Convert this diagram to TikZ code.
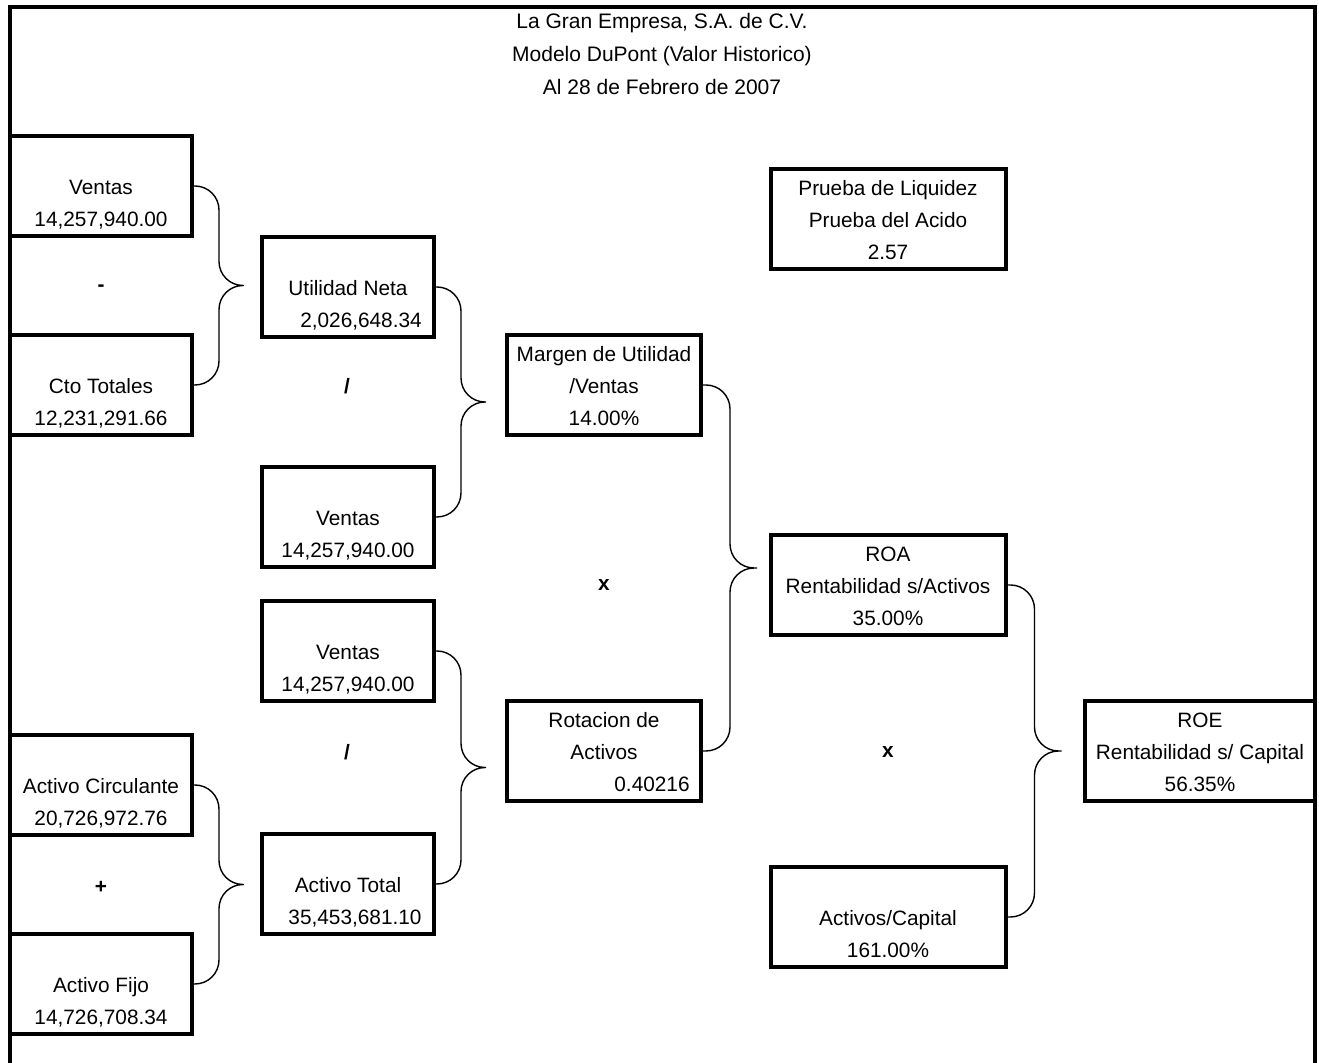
\documentclass[tikz,border=0pt]{standalone}
\usepackage{fontspec}
\setmainfont{Liberation Sans}
\usepackage{tikz}
\usetikzlibrary{calc}
\newcommand{\arriba}{\rule{0pt}{13.2pt}}

\begin{document}
\begin{tikzpicture}[x=0.5pt,y=-0.5pt,thick,
  texto/.style={align=center,font=\fontsize{10.4}{16}\selectfont},
  caja/.style={texto,rectangle,draw,line width=2pt,minimum height=49pt,inner sep=0pt},
  col a/.style={caja,minimum width=91pt},
  col b/.style={caja,minimum width=86pt},
  col c/.style={caja,minimum width=97pt},
  col d/.style={caja,minimum width=117.5pt},
  col e/.style={caja,minimum width=115pt},
  op/.style={font=\fontsize{10.4}{16}\selectfont\bfseries},
  titulo/.style={texto,font=\fontsize{10.5}{16.5}\selectfont},
  llave/.style={line width=0.7pt,rounded corners=12pt}]

  \useasboundingbox (0,0) rectangle (1319,1063);
  \draw[line width=2pt] (10,1063) -- (10,7) -- (1315,7) -- (1315,1063);

  \node[titulo] (tit) at (662,55) {\strut La Gran Empresa, S.A. de C.V.\\Modelo DuPont (Valor Historico)\\\strut Al 28 de Febrero de 2007};

  \node[col a] (ven1) at (101,186) {\arriba\\Ventas\\\strut 14,257,940.00};
  \node[col a] (cto) at (101,385) {\arriba\\Cto Totales\\\strut 12,231,291.66};
  \node[col a] (aci) at (101,785) {\arriba\\Activo Circulante\\\strut 20,726,972.76};
  \node[col a] (afi) at (101,984) {\arriba\\Activo Fijo\\\strut 14,726,708.34};

  \node[col b] (uti) at (348,287) {\arriba\\Utilidad Neta\\\strut\hspace*{13pt}2,026,648.34};
  \node[col b] (ven2) at (348,517) {\arriba\\Ventas\\\strut 14,257,940.00};
  \node[col b] (ven3) at (348,651) {\arriba\\Ventas\\\strut 14,257,940.00};
  \node[col b] (ato) at (348,884) {\arriba\\Activo Total\\\strut\hspace*{7pt}35,453,681.10};

  \node[col c] (mar) at (604,385) {\arriba Margen de Utilidad\\/Ventas\\\strut 14.00\%};
  \node[col c] (rot) at (604,751) {\arriba Rotacion de\\Activos\\\strut\hspace*{48pt}0.40216};

  \node[col d] (pru) at (888,219) {\arriba Prueba de Liquidez\\Prueba del Acido\\\strut 2.57};
  \node[col d] (roa) at (888,585) {\arriba ROA\\Rentabilidad s/Activos\\\strut 35.00\%};
  \node[col d] (acap) at (888,917) {\arriba\\Activos/Capital\\\strut 161.00\%};

  \node[col e] (roe) at (1200,751) {\arriba ROE\\Rentabilidad s/ Capital\\\strut 56.35\%};

  \node[op] (menos) at (101,288) {-};
  \node[op] (div1) at (347,386) {/};
  \node[op] (por1) at (604,585) {x};
  \node[op] (div2) at (347,752) {/};
  \node[op] (mas) at (101,887) {+};
  \node[op] (por2) at (888,752) {x};

  \coordinate (p1) at ($(ven1.east)!.5!(cto.east)+(50,0)$);
  \coordinate (p2) at ($(uti.east)!.5!(ven2.east)+(50,0)$);
  \coordinate (p3) at ($(ven3.east)!.5!(ato.east)+(50,0)$);
  \coordinate (p4) at ($(aci.east)!.5!(afi.east)+(50,0)$);
  \coordinate (p5) at ($(mar.east)!.5!(rot.east)+(54,0)$);
  \coordinate (p6) at ($(roa.east)!.5!(acap.east)+(54,0)$);

  \draw[llave] (ven1.east) -- ++(25,0) |- (p1) (cto.east) -- ++(25,0) |- (p1);
  \draw[llave] (uti.east) -- ++(25,0) |- (p2) (ven2.east) -- ++(25,0) |- (p2);
  \draw[llave] (ven3.east) -- ++(25,0) |- (p3) (ato.east) -- ++(25,0) |- (p3);
  \draw[llave] (aci.east) -- ++(25,0) |- (p4) (afi.east) -- ++(25,0) |- (p4);
  \draw[llave] (mar.east) -- ++(27,0) |- (p5) (rot.east) -- ++(27,0) |- (p5);
  \draw[llave] (roa.east) -- ++(27,0) |- (p6) (acap.east) -- ++(27,0) |- (p6);

\end{tikzpicture}
\end{document}
